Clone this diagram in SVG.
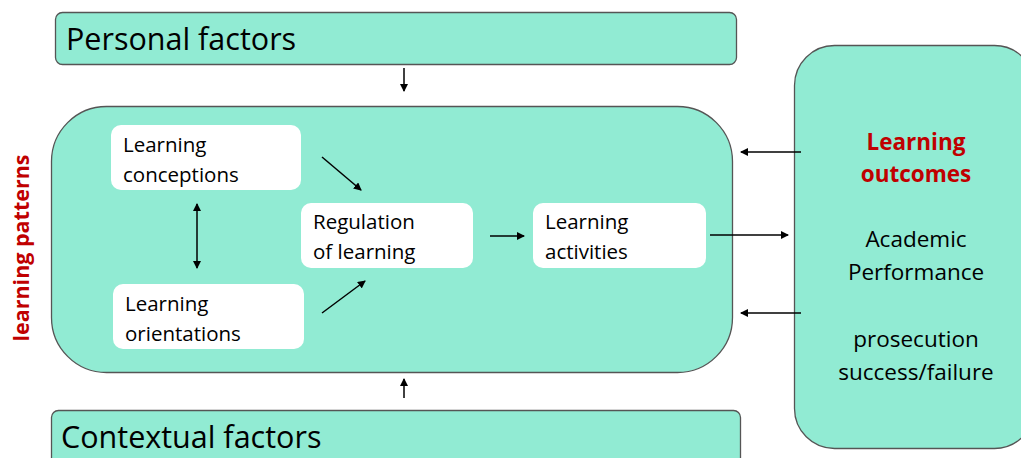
<svg xmlns="http://www.w3.org/2000/svg" width="1021" height="458" viewBox="0 0 1021 458">
<defs>
<style>
.box{fill:#91EBD3;stroke:#555;stroke-width:1.3}
.inner{fill:#fff;stroke:none}
.t{font-family:"Open Sans","Liberation Sans",sans-serif;fill:#000}
.big{font-size:30.5px}
.mid{font-size:20.5px}
.red{fill:#C00000;font-weight:bold}
.c{stroke:#000;stroke-width:1.5;fill:none}
</style>
<marker id="ah" markerWidth="8" markerHeight="8" refX="7" refY="4" orient="auto" markerUnits="userSpaceOnUse">
<path d="M0,0 L8,4 L0,8 Z" fill="#000"/>
</marker>
<marker id="as" markerWidth="8" markerHeight="8" refX="1" refY="4" orient="auto" markerUnits="userSpaceOnUse">
<path d="M8,0 L0,4 L8,8 Z" fill="#000"/>
</marker>
</defs>
<rect width="1021" height="458" fill="#fff"/>
<g id="personal">
<rect class="box" x="55.5" y="12.5" width="681" height="52" rx="7"/>
<text class="t big" x="66" y="50">Personal factors</text>
</g>
<g id="contextual">
<rect class="box" x="51.5" y="410.5" width="689" height="60" rx="7"/>
<text class="t big" x="61" y="448">Contextual factors</text>
</g>
<g id="patterns">
<rect class="box" x="51.5" y="106.5" width="681" height="266" rx="55"/>
<text class="t red" font-size="21.5" transform="translate(29,248) rotate(-90)" text-anchor="middle">learning patterns</text>
</g>
<g id="conceptions">
<rect class="inner" x="111" y="125" width="190" height="65" rx="10"/>
<text class="t mid" x="123" y="152">Learning</text>
<text class="t mid" x="123" y="182">conceptions</text>
</g>
<g id="orientations">
<rect class="inner" x="113" y="284" width="191" height="65" rx="10"/>
<text class="t mid" x="125" y="311">Learning</text>
<text class="t mid" x="125" y="341">orientations</text>
</g>
<g id="regulation">
<rect class="inner" x="301" y="203" width="172" height="65" rx="10"/>
<text class="t mid" x="313" y="229">Regulation</text>
<text class="t mid" x="313" y="259">of learning</text>
</g>
<g id="activities">
<rect class="inner" x="533" y="203" width="173" height="65" rx="10"/>
<text class="t mid" x="545" y="229">Learning</text>
<text class="t mid" x="545" y="259">activities</text>
</g>
<g id="outcomes">
<rect class="box" x="794.5" y="45.5" width="240" height="403" rx="40"/>
<g class="t" font-size="22.5" text-anchor="middle">
<text class="red" x="916" y="150">Learning</text>
<text class="red" x="916" y="182">outcomes</text>
<text x="916" y="247">Academic</text>
<text x="916" y="280">Performance</text>
<text x="916" y="347">prosecution</text>
<text x="916" y="380">success/failure</text>
</g>
</g>
<g id="connectors">
<line class="c" x1="404" y1="68" x2="404" y2="91" marker-end="url(#ah)"/>
<line class="c" x1="404" y1="398" x2="404" y2="379" marker-end="url(#ah)"/>
<line class="c" x1="322" y1="157" x2="361" y2="190" marker-end="url(#ah)"/>
<line class="c" x1="322" y1="313" x2="365" y2="281" marker-end="url(#ah)"/>
<line class="c" x1="197" y1="204" x2="197" y2="268" marker-start="url(#as)" marker-end="url(#ah)"/>
<line class="c" x1="490" y1="236" x2="524" y2="236" marker-end="url(#ah)"/>
<line class="c" x1="710" y1="235" x2="788" y2="235" marker-end="url(#ah)"/>
<line class="c" x1="801" y1="152" x2="741" y2="152" marker-end="url(#ah)"/>
<line class="c" x1="801" y1="313" x2="741" y2="313" marker-end="url(#ah)"/>
</g>
</svg>
